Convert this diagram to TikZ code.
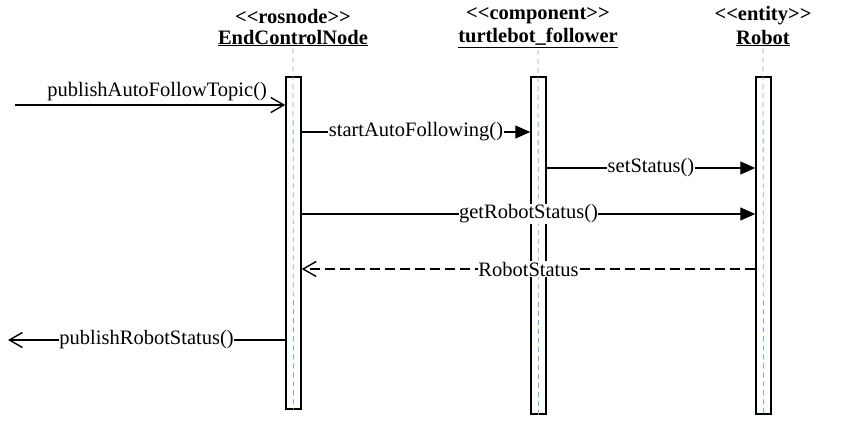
\documentclass[tikz,border=0pt]{standalone}
\usepackage{fontspec}
\setmainfont{Liberation Serif}
\usetikzlibrary{arrows.meta}
\begin{document}
\begin{tikzpicture}[x=1pt,y=-1pt,
  actbox/.style={draw=black,line width=1.5pt,fill=white,minimum width=15pt,inner sep=0pt},
  lifeline/.style={draw={rgb,255:red,120;green,170;blue,220},line width=0.8pt,dash pattern=on 5pt off 4pt},
  msg/.style={line width=1.4pt,-{Triangle[length=15pt,width=13pt]}},
  omsg/.style={line width=1.4pt,-{Straight Barb[length=13pt,width=15pt,line width=1.4pt]}},
  rmsg/.style={line width=1.4pt,dash pattern=on 10pt off 5pt,-{Straight Barb[length=13pt,width=15pt,line width=1.4pt]}},
  lbl/.style={font=\fontsize{20.5}{20.5}\selectfont,fill=white,inner sep=0.5pt},
  stereo/.style={font=\fontsize{20.5}{20.5}\selectfont\bfseries,inner sep=0pt},
]
\useasboundingbox (0,0) rectangle (841,437);
% headers
\node[stereo] (s1) at (293,16) {<{}<rosnode>{}>};
\node[stereo] (t1) at (293,38) {\underline{EndControlNode}};
\node[stereo] (s2) at (538,16) {<{}<component>{}>};
\node[stereo] (t2) at (538,38) {\underline{turtlebot\_follower}};
\node[stereo] (s3) at (763,16) {<{}<entity>{}>};
\node[stereo] (t3) at (763,38) {\underline{Robot}};
% activation boxes
\node[actbox,minimum height=332pt,anchor=north] (a1) at (293.5,76) {};
\node[actbox,minimum height=337pt,anchor=north] (a2) at (538.5,76) {};
\node[actbox,minimum height=337pt,anchor=north] (a3) at (763.5,76) {};
% lifelines
\draw[lifeline] (t1.south) ++(0,2) -- (a1.south);
\draw[lifeline] (t2.south) ++(0,2) -- (a2.south);
\draw[lifeline] (t3.south) ++(0,2) -- (a3.south);
% message end points
\coordinate (in1) at (15,105);
\coordinate (out1) at (8,340);
% 1
\draw[omsg] (in1) -- (a1.west |- in1) node[midway,above=3pt,xshift=7pt,lbl,fill=none] {publishAutoFollowTopic()};
% 2
\coordinate (y2) at (0,132);
\draw[msg] (a1.east |- y2) -- (a2.west |- y2) node[midway,lbl] {startAutoFollowing()};
% 3
\coordinate (y3) at (0,168);
\draw[msg] (a2.east |- y3) -- (a3.west |- y3) node[midway,lbl] {setStatus()};
% 4
\coordinate (y4) at (0,214);
\draw[msg] (a1.east |- y4) -- (a3.west |- y4) node[midway,lbl] {getRobotStatus()};
% 5
\coordinate (y5) at (0,269);
\draw[rmsg] (a3.west |- y5) -- (a1.east |- y5) node[midway,lbl] {RobotStatus};
% 6
\draw[omsg] (a1.west |- out1) -- (out1) node[midway,lbl] {publishRobotStatus()};
\end{tikzpicture}
\end{document}
